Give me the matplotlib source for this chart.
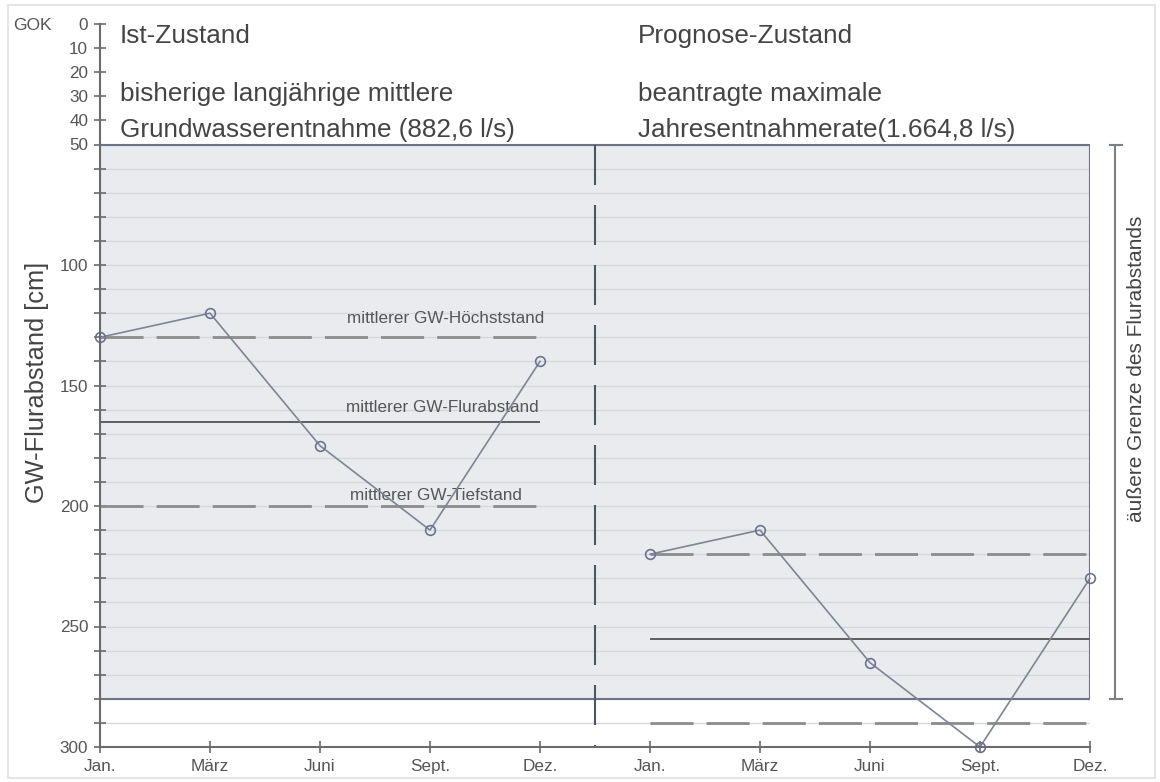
import matplotlib.pyplot as plt
from matplotlib.patches import Rectangle

plt.rcParams['font.family'] = ['Liberation Sans', 'DejaVu Sans']

# Daten
monate = ['Jan.', 'März', 'Juni', 'Sept.', 'Dez.']
ist_werte = [130, 120, 175, 210, 140]
prognose_werte = [220, 210, 265, 300, 230]

# mittlere Stände: Höchststand, Flurabstand, Tiefstand
ist_staende = [130, 165, 200]
prognose_staende = [220, 255, 290]
stand_namen = ['mittlerer GW-Höchststand', 'mittlerer GW-Flurabstand', 'mittlerer GW-Tiefstand']

grenze_oben = 50
grenze_unten = 280
y_beschriftet = [0, 10, 20, 30, 40, 50, 100, 150, 200, 250, 300]

achse_farbe = '#6b6b6b'
linie_farbe = '#7d8596'

fig = plt.figure(figsize=(11.6, 7.82), dpi=100)
ax = fig.add_axes([100 / 1160, 35 / 782, 990 / 1160, 723 / 782])

x_ist = list(range(len(monate)))
x_prog = [x + len(monate) for x in x_ist]
x_max = x_prog[-1]

# grauer Bereich (äußere Grenze) + Gitter
ax.add_patch(Rectangle((0, grenze_oben), x_max, grenze_unten - grenze_oben,
                       fc='#eaebee', ec='none', zorder=0))
for y in range(grenze_oben, 301, 10):
    ax.hlines(y, 0, x_max, color='#d6d8dc', lw=1, zorder=1)
ax.add_patch(Rectangle((0, grenze_oben), x_max, grenze_unten - grenze_oben,
                       fill=False, ec='#6b7384', lw=1.5, zorder=2))

# Trennlinie
ax.vlines(x_max / 2, grenze_oben, 300, color='#4b5565', lw=1.5,
          linestyles=(0, (19.2, 9.6)), zorder=3)

# mittlere Stände
for xs, staende in [(x_ist, ist_staende), (x_prog, prognose_staende)]:
    for i, y in enumerate(staende):
        if i == 1:
            ax.hlines(y, xs[0], xs[-1], color='#5e5e5e', lw=1.4, zorder=3)
        else:
            ax.hlines(y, xs[0], xs[-1], color='#8c8c8c', lw=2,
                      linestyles=(0, (15.5, 4.7)), zorder=3)

label_x = [3.14, 3.11, 3.05]
label_y = [122, 159, 195.5]
for name, lx, ly in zip(stand_namen, label_x, label_y):
    ax.text(lx, ly, name, ha='center', va='center', fontsize=12.3, color='#555555', zorder=4)

# Ganglinien
for xs, werte in [(x_ist, ist_werte), (x_prog, prognose_werte)]:
    ax.plot(xs, werte, color=linie_farbe, lw=1.2, marker='o', mfc='none',
            mec='#6c7390', mew=1.2, ms=7, clip_on=False, zorder=5)

# Achsen
ax.set_xlim(0, x_max)
ax.set_ylim(300, 0)
ax.set_xticks(x_ist + x_prog)
ax.set_xticklabels(monate + monate)
ax.set_yticks(range(0, 301, 10))
ax.set_yticklabels([str(v) if v in y_beschriftet else '' for v in range(0, 301, 10)])
for s in ['top', 'right']:
    ax.spines[s].set_visible(False)
for s in ['left', 'bottom']:
    ax.spines[s].set_color(achse_farbe)
    ax.spines[s].set_linewidth(1.5)
    ax.spines[s].set_zorder(6)
ax.tick_params(axis='y', direction='inout', length=9, width=1.2, color=achse_farbe,
               labelsize=12.3, labelcolor='#555555', pad=4)
ax.tick_params(axis='x', direction='inout', length=9, width=1.2, color=achse_farbe,
               labelsize=12.3, labelcolor='#555555', pad=4)
ax.patch.set_alpha(0)

# Überschriften
titel_kw = dict(fontsize=18.8, color='#444444', va='baseline')
ax.text(0.18, 8, 'Ist-Zustand', **titel_kw)
ax.text(0.18, 32, 'bisherige langjährige mittlere', **titel_kw)
ax.text(0.18, 47, 'Grundwasserentnahme (882,6 l/s)', **titel_kw)
ax.text(4.89, 8, 'Prognose-Zustand', **titel_kw)
ax.text(4.89, 32, 'beantragte maximale', **titel_kw)
ax.text(4.89, 47, 'Jahresentnahmerate(1.664,8 l/s)', **titel_kw)

# Klammer rechts
ax.plot([9.227, 9.227], [grenze_oben, grenze_unten], color='#7a7f8a', lw=1.5, clip_on=False)
for y in [grenze_oben, grenze_unten]:
    ax.plot([9.18, 9.29], [y, y], color='#7a7f8a', lw=1.5, clip_on=False)
ax.text(9.42, 143, 'äußere Grenze des Flurabstands', rotation=90, ha='center', va='center',
        fontsize=15, color='#444444', clip_on=False)

fig.text(37 / 1160, 1 - 382 / 782, 'GW-Flurabstand [cm]', rotation=90, ha='center',
         va='center', fontsize=18.3, color='#444444')
fig.text(13 / 1160, 1 - 25 / 782, 'GOK', ha='left', va='center', fontsize=12.5, color='#555555')

fig.patches.append(Rectangle((8 / 1160, 4 / 782), 1147 / 1160, 773 / 782,
                             transform=fig.transFigure, fill=False, ec='#e6e6e6', lw=1.5))

fig.savefig('out.png', dpi=100)
